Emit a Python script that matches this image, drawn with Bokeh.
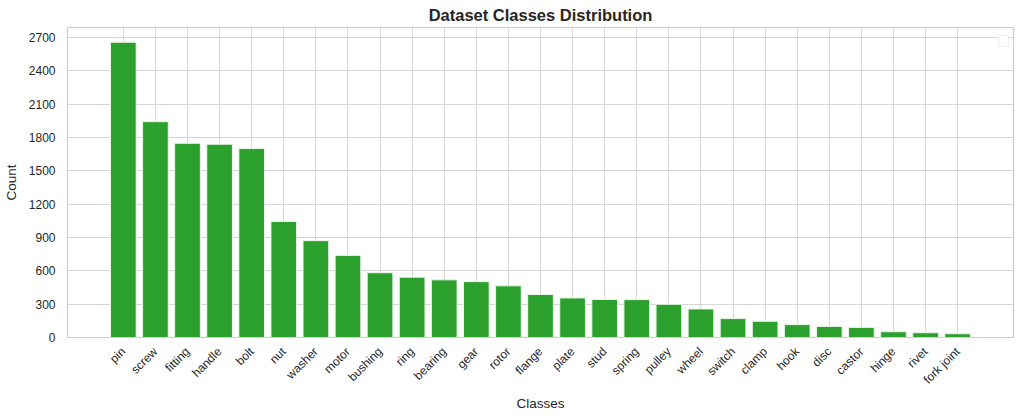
from math import pi
from bokeh.plotting import figure
from bokeh.models import FixedTicker, Range1d, BoxAnnotation, ColumnDataSource
from bokeh.embed import file_html
from bokeh.resources import INLINE

categories = ["pin", "screw", "fitting", "handle", "bolt", "nut", "washer", "motor",
              "bushing", "ring", "bearing", "gear", "rotor", "flange", "plate", "stud",
              "spring", "pulley", "wheel", "switch", "clamp", "hook", "disc", "castor",
              "hinge", "rivet", "fork joint"]
counts = [2658, 1943, 1748, 1740, 1701, 1044, 872, 739, 583, 543, 519, 503, 465, 387,
          356, 342, 341, 299, 257, 170, 146, 116, 100, 91, 52, 43, 34]
y_ticks = [0, 300, 600, 900, 1200, 1500, 1800, 2100, 2400, 2700]

FONT = "Liberation Sans"
TEXT = "#262626"
GRID = "#d6d6d6"

positions = list(range(len(categories)))
src = ColumnDataSource(dict(x=positions, top=counts, name=categories))

n = len(categories)
pad = 0.05 * (n - 1 + 0.8)
x0, x1 = -0.4 - pad, n - 1 + 0.4 + pad
y1 = max(counts) * 1.05

p = figure(frame_width=946, frame_height=310, output_backend="svg", toolbar_location=None,
           x_range=Range1d(x0, x1), y_range=Range1d(0, y1),
           title="Dataset Classes Distribution",
           min_border_left=59, min_border_right=3, min_border_top=19,
           min_border_bottom=5)

p.vbar(x="x", top="top", width=0.8, source=src, fill_color="#2ca02c",
       line_color="#e8f5e8", line_width=1)

p.title.align = "center"
p.title.text_font = FONT
p.title.text_font_size = "16.5px"
p.title.text_font_style = "bold"
p.title.text_color = TEXT
p.title.offset = 0
p.title.standoff = 7

p.xaxis.ticker = FixedTicker(ticks=positions)
p.xaxis.major_label_overrides = {i: c for i, c in enumerate(categories)}
p.xaxis.major_label_orientation = pi / 4
p.yaxis.ticker = FixedTicker(ticks=y_ticks)
p.xaxis.axis_label = "Classes"
p.yaxis.axis_label = "Count"

for ax in (p.xaxis, p.yaxis):
    ax.axis_line_color = None
    ax.major_tick_line_color = None
    ax.minor_tick_line_color = None
    ax.major_label_text_font = FONT
    ax.major_label_text_font_size = "12px"
    ax.major_label_text_color = TEXT
    ax.axis_label_text_font = FONT
    ax.axis_label_text_font_size = "13.5px"
    ax.axis_label_text_font_style = "normal"
    ax.axis_label_text_color = TEXT

p.xaxis.major_label_standoff = 6
p.yaxis.major_label_standoff = 6
p.xaxis.axis_label_standoff = 2
p.yaxis.axis_label_standoff = 7

p.xgrid.grid_line_color = GRID
p.ygrid.grid_line_color = GRID
p.xgrid.grid_line_width = 1
p.ygrid.grid_line_width = 1
p.outline_line_color = "#cccccc"
p.outline_line_width = 1.2
p.background_fill_color = "white"
p.border_fill_color = "white"

# empty legend frame (top-right), as in the reference
legend_box = BoxAnnotation(right=x1 - 0.16, left=x1 - 0.47, top=y1 - 72, bottom=y1 - 171,
                           fill_color="white", fill_alpha=1.0, line_color="#c8c8c8",
                           line_width=1.2, border_radius=2)
p.add_layout(legend_box)

open("out.html", "w").write(file_html(p, INLINE))
